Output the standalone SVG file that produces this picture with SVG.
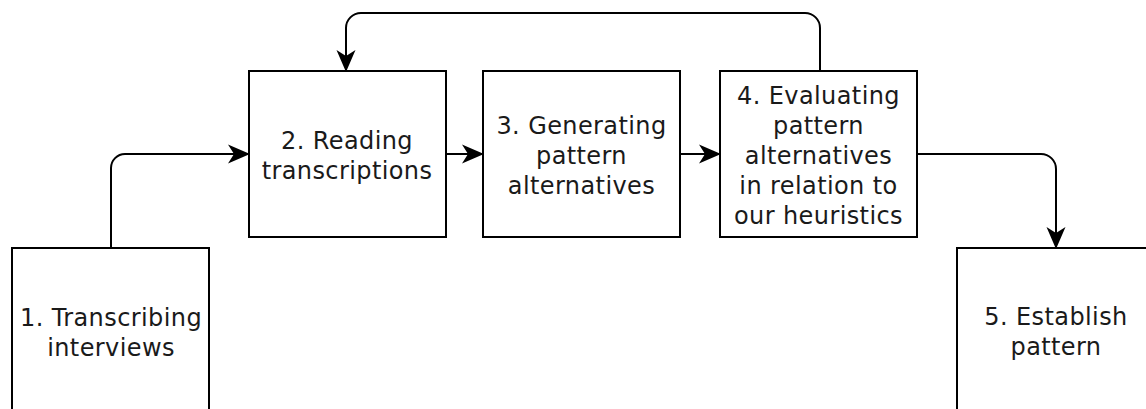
<svg xmlns="http://www.w3.org/2000/svg" width="1146" height="409" viewBox="0 0 1146 409">
  <style>
    .box { fill: #ffffff; stroke: #000000; stroke-width: 2; }
    .lbl { font-family: "DejaVu Sans", "Liberation Sans", sans-serif; font-size: 24px; letter-spacing: 0.4px; fill: #1a1a1a; text-anchor: middle; }
    .edge { fill: none; stroke: #000000; stroke-width: 2; marker-end: url(#arrow); }
  </style>
  <defs>
    <marker id="arrow" markerUnits="userSpaceOnUse" viewBox="0 -10 22 20" markerWidth="22" markerHeight="20" refX="21" refY="0" orient="auto">
      <path d="M0,-9.5 L22,0 L0,9.5 L6,0 Z" fill="#000000"/>
    </marker>
  </defs>
  <rect width="1146" height="409" fill="#ffffff"/>

  <g id="connectors">
    <path class="edge" d="M111,248 V168 A14,14 0 0 1 125,154 H249"/>
    <path class="edge" d="M445,154 H483"/>
    <path class="edge" d="M680,154 H720"/>
    <path class="edge" d="M917,154 H1041 A15,15 0 0 1 1056,169 V248"/>
    <path class="edge" d="M820,71 V28 A15,15 0 0 0 805,13 H361 A15,15 0 0 0 346,28 V71"/>
  </g>

  <g id="node1">
    <rect class="box" x="12" y="248" width="197" height="166"/>
    <text class="lbl" x="111" y="325.5">1. Transcribing</text>
    <text class="lbl" x="111" y="355.5">interviews</text>
  </g>
  <g id="node2">
    <rect class="box" x="249" y="71" width="197" height="166"/>
    <text class="lbl" x="347" y="148.5">2. Reading</text>
    <text class="lbl" x="347" y="178.5">transcriptions</text>
  </g>
  <g id="node3">
    <rect class="box" x="483" y="71" width="197" height="166"/>
    <text class="lbl" x="581.5" y="133.5">3. Generating</text>
    <text class="lbl" x="581.5" y="163.5">pattern</text>
    <text class="lbl" x="581.5" y="193.5">alternatives</text>
  </g>
  <g id="node4">
    <rect class="box" x="720" y="71" width="197" height="166"/>
    <text class="lbl" x="818.5" y="103.5">4. Evaluating</text>
    <text class="lbl" x="818.5" y="133.5">pattern</text>
    <text class="lbl" x="818.5" y="163.5">alternatives</text>
    <text class="lbl" x="818.5" y="193.5">in relation to</text>
    <text class="lbl" x="818.5" y="223.5">our heuristics</text>
  </g>
  <g id="node5">
    <rect class="box" x="957" y="248" width="197" height="166"/>
    <text class="lbl" x="1056" y="324.5">5. Establish</text>
    <text class="lbl" x="1056" y="354.5">pattern</text>
  </g>
</svg>
